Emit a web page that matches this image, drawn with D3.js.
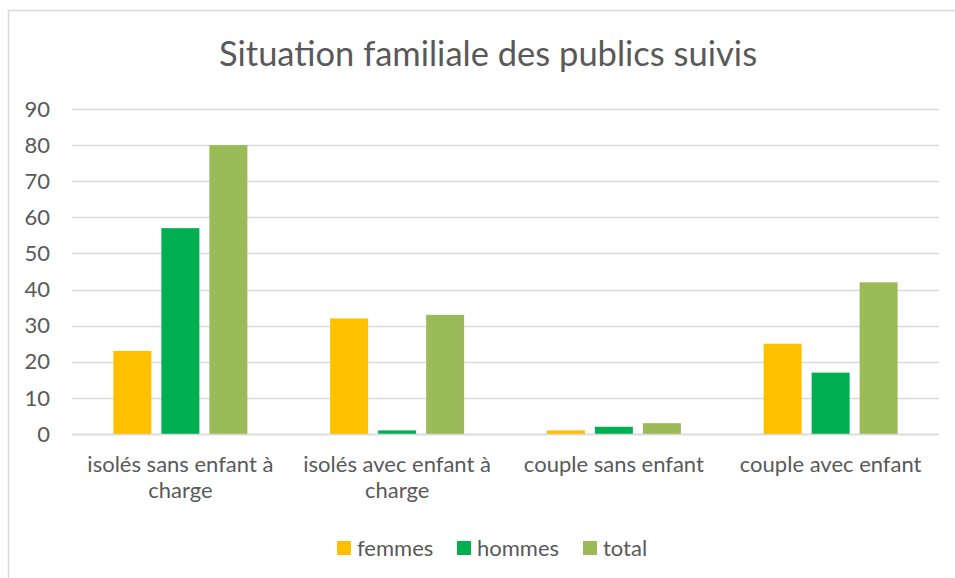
<!DOCTYPE html>
<html>
<head>
<meta charset="utf-8">
<script src="https://cdn.jsdelivr.net/npm/d3@7"></script>
<style>
  body { margin: 0; background: #fff; }
  svg { display: block; }
</style>
</head>
<body>
<svg id="root"></svg>
<script>
const categories = [
  "isolés sans enfant à charge",
  "isolés avec enfant à charge",
  "couple sans enfant",
  "couple avec enfant",
];
const seriesNames = ["femmes", "hommes", "total"];
const femmes = [23, 32, 1, 25];
const hommes = [57, 1, 2, 17];
const total = [80, 33, 3, 42];
const yTicks = [0, 10, 20, 30, 40, 50, 60, 70, 80, 90];
const colors = ["#FFC000", "#00B050", "#9BBB59"];

const draw = () => {
  const width = 955,
    height = 578;
  const fontFamily = "Lato, 'Open Sans', sans-serif";
  const textColor = "#595959";

  const plot = { left: 72, right: 939, top: 109, bottom: 434 };

  const svg = d3.select("svg#root")
    .attr("width", width)
    .attr("height", height)
    .style("font-family", fontFamily);

  // chart border (cropped on the right and bottom)
  svg.append("rect")
    .attr("x", 8.5)
    .attr("y", 10.5)
    .attr("width", 980)
    .attr("height", 600)
    .attr("fill", "#fff")
    .attr("stroke", "#D9D9D9")
    .attr("stroke-width", 1.5);

  svg.append("text")
    .attr("x", 488)
    .attr("y", 66)
    .attr("text-anchor", "middle")
    .attr("font-size", "34.5px")
    .attr("fill", textColor)
    .text("Situation familiale des publics suivis");

  const y = d3.scaleLinear().domain([0, 90]).range([plot.bottom, plot.top]);

  const x0 = d3.scaleBand()
    .domain(categories)
    .range([plot.left, plot.right])
    .padding(0);

  const x1 = d3.scaleBand()
    .domain(seriesNames)
    .range([0, x0.bandwidth()])
    .paddingInner(0.2083)
    .paddingOuter(0.862);

  // gridlines
  svg.append("g")
    .selectAll("line")
    .data(yTicks)
    .join("line")
    .attr("x1", plot.left)
    .attr("x2", plot.right)
    .attr("y1", (d) => Math.round(y(d)) + 0.5)
    .attr("y2", (d) => Math.round(y(d)) + 0.5)
    .attr("stroke", "#D9D9D9")
    .attr("stroke-width", 1.5);

  // y tick labels
  svg.append("g")
    .selectAll("text")
    .data(yTicks)
    .join("text")
    .attr("x", 50)
    .attr("y", (d) => y(d))
    .attr("dy", "0.35em")
    .attr("text-anchor", "end")
    .attr("font-size", "22px")
    .attr("fill", textColor)
    .text((d) => d);

  const seriesValues = [femmes, hommes, total];
  const rows = [];
  categories.forEach((c, i) => {
    seriesNames.forEach((s, j) => {
      rows.push({ category: c, series: s, value: seriesValues[j][i], color: colors[j] });
    });
  });

  svg.append("g")
    .selectAll("rect")
    .data(rows)
    .join("rect")
    .attr("x", (d) => x0(d.category) + x1(d.series))
    .attr("y", (d) => y(d.value))
    .attr("width", x1.bandwidth())
    .attr("height", (d) => y(0) - y(d.value))
    .attr("fill", (d) => d.color);

  // redraw the baseline over the bars
  svg.append("line")
    .attr("x1", plot.left)
    .attr("x2", plot.right)
    .attr("y1", Math.round(y(0)) + 0.5)
    .attr("y2", Math.round(y(0)) + 0.5)
    .attr("stroke", "#D9D9D9")
    .attr("stroke-width", 1.5);

  // category labels, wrapped to the band
  const catLabel = svg.append("g")
    .selectAll("text")
    .data(categories)
    .join("text")
    .attr("text-anchor", "middle")
    .attr("font-size", "22px")
    .attr("fill", textColor);

  const maxW = x0.bandwidth() - 10;
  catLabel.each(function (c) {
    const t = d3.select(this);
    const words = c.split(" ");
    const lines = [];
    let line = [];
    const probe = t.append("tspan");
    for (const w of words) {
      const test = line.concat(w).join(" ");
      probe.text(test);
      if (probe.node().getComputedTextLength() > maxW && line.length) {
        lines.push(line.join(" "));
        line = [w];
      } else {
        line.push(w);
      }
    }
    lines.push(line.join(" "));
    probe.remove();
    const cx = x0(c) + x0.bandwidth() / 2;
    lines.forEach((l, k) => {
      t.append("tspan")
        .attr("x", cx)
        .attr("y", 472 + k * 26)
        .text(l);
    });
  });

  // legend
  const legendX = [337, 457, 583];
  const legend = svg.append("g")
    .selectAll("g")
    .data(seriesNames)
    .join("g")
    .attr("transform", (d, i) => `translate(${legendX[i]}, 541)`);

  legend.append("rect")
    .attr("width", 14)
    .attr("height", 14)
    .attr("fill", (d, i) => colors[i]);

  legend.append("text")
    .attr("x", 20)
    .attr("y", 14.5)
    .attr("font-size", "22px")
    .attr("fill", textColor)
    .text((d) => d);

  return svg.node();
};

draw();
</script>
</body>
</html>
